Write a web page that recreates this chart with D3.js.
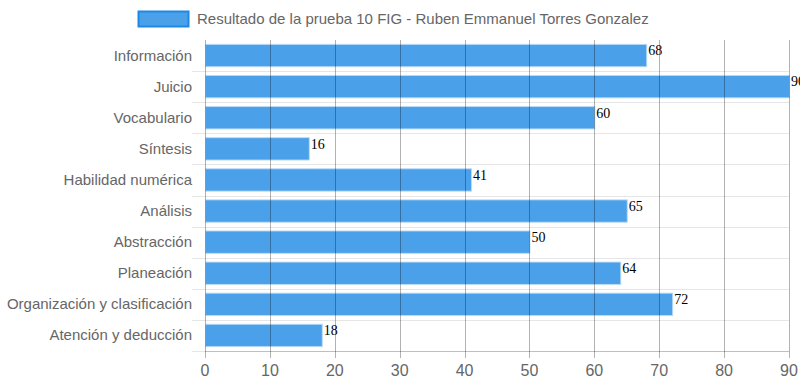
<!DOCTYPE html>
<html><head><meta charset="utf-8">
<script src="https://cdn.jsdelivr.net/npm/d3@7"></script>
<style>body{margin:0;background:#fff}svg{display:block}</style>
</head><body><svg id="c" width="800" height="386"></svg>
<script>
const categories = ["Información","Juicio","Vocabulario","Síntesis","Habilidad numérica","Análisis","Abstracción","Planeación","Organización y clasificación","Atención y deducción"];
const values = [68,90,60,16,41,65,50,64,72,18];
const xTicks = [0,10,20,30,40,50,60,70,80,90];
const seriesName = "Resultado de la prueba 10 FIG - Ruben Emmanuel Torres Gonzalez";

const svg = d3.select("#c");
const m = {l:205, r:789, t:40, b:351};
const x = d3.scaleLinear().domain([0,90]).range([m.l, m.r]);
const y = d3.scaleBand().domain(categories).range([m.t, m.b]).paddingInner(0).paddingOuter(0);
const font = "Arial, 'Liberation Sans', Helvetica, sans-serif";

// horizontal grid lines (band boundaries)
const hb = d3.range(1, categories.length).map(i => m.t + i*y.step());
svg.append("g").selectAll("line").data(hb).join("line")
  .attr("x1", m.l-13).attr("x2", m.r).attr("y1", d=>Math.round(d)+0.5).attr("y2", d=>Math.round(d)+0.5)
  .attr("stroke","#e6e6e6").attr("stroke-width",1);
svg.append("line").attr("x1",m.l-13).attr("x2",m.l).attr("y1",m.b+0.5).attr("y2",m.b+0.5).attr("stroke","#e6e6e6");

// bars
const bh = y.bandwidth()*0.72;
svg.append("g").selectAll("rect").data(values).join("rect")
  .attr("x", x(0)+0.5)
  .attr("y", (d,i)=> y(categories[i]) + (y.bandwidth()-bh)/2)
  .attr("width", d=> x(d)-x(0))
  .attr("height", bh)
  .attr("fill","rgba(30,136,229,0.8)")
  .attr("stroke","rgba(190,220,248,0.9)").attr("stroke-width",1);

// vertical grid lines
svg.append("g").selectAll("line").data(xTicks).join("line")
  .attr("x1", d=>Math.round(x(d))+0.5).attr("x2", d=>Math.round(x(d))+0.5)
  .attr("y1", m.t).attr("y2", m.b+7)
  .attr("stroke","rgba(0,0,0,0.3)").attr("stroke-width",1);
svg.append("line").attr("x1",m.l).attr("x2",m.r).attr("y1",m.b+0.5).attr("y2",m.b+0.5).attr("stroke","rgba(0,0,0,0.25)");

// x tick labels
svg.append("g").selectAll("text").data(xTicks).join("text")
  .attr("x", d=>x(d)).attr("y", 376)
  .attr("text-anchor","middle").attr("font-family",font).attr("font-size",16).attr("fill","#666")
  .text(d=>d);

// y labels
svg.append("g").selectAll("text").data(categories).join("text")
  .attr("x", 192).attr("y", d=> y(d)+y.bandwidth()/2+5)
  .attr("text-anchor","end").attr("font-family",font).attr("font-size",15).attr("fill","#666")
  .text(d=>d);

// value labels
svg.append("g").selectAll("text").data(values).join("text")
  .attr("x", d=> x(d)+2).attr("y", (d,i)=> y(categories[i]) + (y.bandwidth()-bh)/2 + 11)
  .attr("font-family","'Liberation Serif', 'Times New Roman', serif").attr("font-size",14).attr("fill","#000")
  .text(d=>d);

// legend
svg.append("rect").attr("x",138.5).attr("y",11.5).attr("width",50).attr("height",15)
  .attr("fill","rgba(30,136,229,0.8)").attr("stroke","#1e88e5").attr("stroke-width",2);
svg.append("text").attr("x",197).attr("y",24).attr("font-family",font).attr("font-size",15).attr("fill","#666").text(seriesName);
</script></body></html>
